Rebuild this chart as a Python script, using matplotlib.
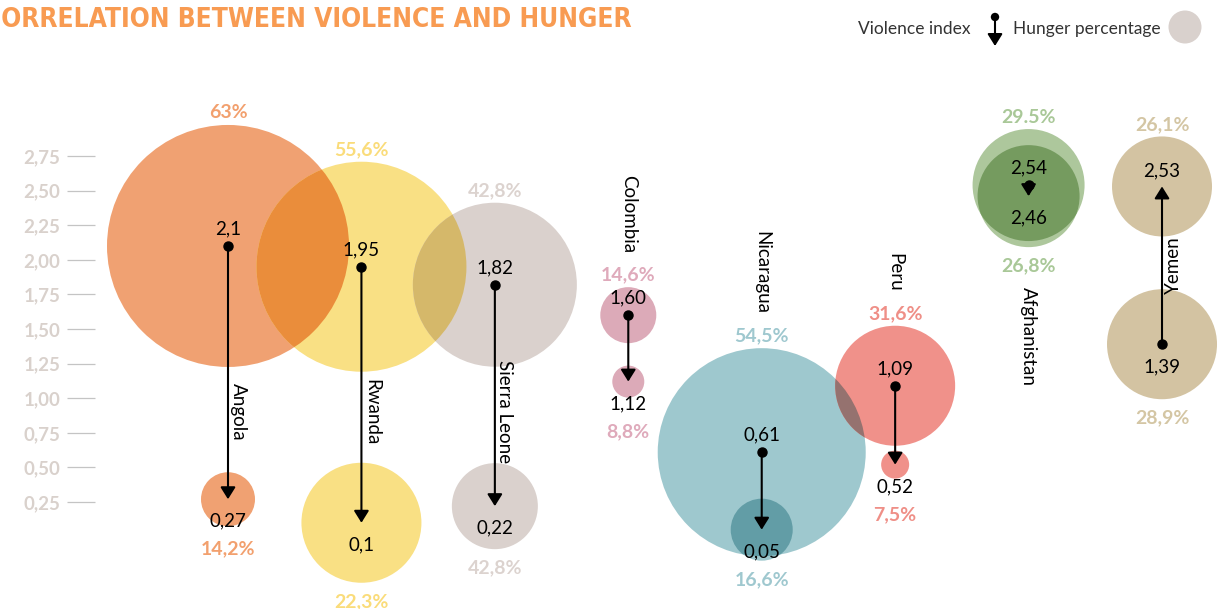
import matplotlib
matplotlib.use('Agg')
import matplotlib.pyplot as plt
from matplotlib.patches import Circle
from matplotlib import transforms, font_manager
import matplotlib.colors as mcolors
import numpy as np

plt.rcParams['font.family'] = ['Lato', 'DejaVu Sans']

# data
countries = ['Angola', 'Rwanda', 'Sierra Leone', 'Colombia', 'Nicaragua', 'Peru', 'Afghanistan', 'Yemen']
violence_start = [2.1, 1.95, 1.82, 1.60, 0.61, 1.09, 2.54, 1.39]
violence_end = [0.27, 0.1, 0.22, 1.12, 0.05, 0.52, 2.46, 2.53]
violence_start_lbl = ['2,1', '1,95', '1,82', '1,60', '0,61', '1,09', '2,54', '1,39']
violence_end_lbl = ['0,27', '0,1', '0,22', '1,12', '0,05', '0,52', '2,46', '2,53']
hunger_start_lbl = ['63%', '55,6%', '42,8%', '14,6%', '54,5%', '31,6%', '29.5%', '28,9%']
hunger_end_lbl = ['14,2%', '22,3%', '42,8%', '8,8%', '16,6%', '7,5%', '26,8%', '26,1%']
yticks = [0.25, 0.5, 0.75, 1.0, 1.25, 1.5, 1.75, 2.0, 2.25, 2.5, 2.75]
ytick_lbl = ['0,25', '0,50', '0,75', '1,00', '1,25', '1,50', '1,75', '2,00', '2,25', '2,50', '2,75']
title = 'CORRELATION BETWEEN VIOLENCE AND HUNGER'

# style: bubble radii in pixels, colours, where the country name goes
r_start = [121, 105, 82, 28, 104, 60, 56, 55]
r_end = [27, 60, 43, 16, 31, 14, 51, 50]
colors = ['#f0a172', '#f9e084', '#dad1cd', '#dcaab8', '#9ec8ce', '#f0918a', '#adc79c', '#d3c3a2']
label_colors = ['#f2a06e', '#fadc7a', '#dcd3cf', '#dfaabb', '#9fc8cf', '#ef8f87', '#a9c898', '#d4c6a4']
name_mode = ['fixed', 'fixed', 'fixed', 'above', 'above', 'above', 'below', 'arrow']

W, H = 1224, 609
PT = 0.72  # points per pixel at dpi 100

fig = plt.figure(figsize=(W / 100, H / 100), dpi=100)
ax_left = 95
ax = fig.add_axes([ax_left / W, 0, 1 - ax_left / W, 1])
px_x, px_y = 133.43, 138.4
x0 = -(228 - ax_left) / px_x
ax.set_xlim(x0, x0 + (W - ax_left) / px_x)
ax.set_ylim(2.75 - (H - 156) / px_y, 2.75 + 156 / px_y)

ax.set_xticks([])
ax.set_yticks(yticks)
ax.set_yticklabels(ytick_lbl)
ax.tick_params(axis='y', length=20, width=0.9, color='#c4c4c4', pad=5,
               labelsize=13.5, labelcolor='#d9d1cc')
for t in ax.get_yticklabels():
    t.set_fontweight('bold')
for s in ax.spines.values():
    s.set_visible(False)


def bubble(x, y, r, color, z=1):
    tr = fig.dpi_scale_trans + transforms.ScaledTranslation(x, y, ax.transData)
    c = Circle((0, 0), r / 100, transform=tr, facecolor=color, edgecolor='none', zorder=z)
    ax.add_patch(c)
    return c


def multiply(c1, c2):
    a = np.array(mcolors.to_rgb(c1))
    b = np.array(mcolors.to_rgb(c2))
    return tuple(a * b)


bubbles = []
for i in range(len(countries)):
    for v, r in ((violence_start[i], r_start[i]), (violence_end[i], r_end[i])):
        p = bubble(i, v, r, colors[i])
        p.set_clip_on(False)
        bubbles.append((i, v, r, colors[i], p))

# darker overlap where two bubbles cross (multiply blend)
for a in range(len(bubbles)):
    for b in range(a + 1, len(bubbles)):
        ia, va, ra, ca, pa = bubbles[a]
        ib, vb, rb, cb, pb = bubbles[b]
        da = ax.transData.transform((ia, va))
        db = ax.transData.transform((ib, vb))
        if np.hypot(*(da - db)) < ra + rb:
            ov = bubble(ib, vb, rb, multiply(ca, cb), z=2)
            ov.set_clip_path(pa)


def label(x, y, txt, dy_px, **kw):
    ax.annotate(txt, xy=(x, y), xytext=(0, dy_px * PT), textcoords='offset points',
                ha='center', va='center', zorder=8, annotation_clip=False, **kw)


for i, name in enumerate(countries):
    s, e = violence_start[i], violence_end[i]
    down = e < s
    ax.annotate('', xy=(i, e), xytext=(i, s),
                arrowprops=dict(arrowstyle='-|>,head_length=0.4,head_width=0.25',
                                mutation_scale=18, color='black', lw=1.5,
                                shrinkA=0, shrinkB=0), zorder=6)
    ax.plot(i, s, 'o', color='black', ms=6.5, zorder=7, clip_on=False)

    if down:
        label(i, s, violence_start_lbl[i], 17, fontsize=13.5, color='black')
        label(i, e, violence_end_lbl[i], -22, fontsize=13.5, color='black')
        top_v, top_r, top_txt = s, r_start[i], hunger_start_lbl[i]
        bot_v, bot_r, bot_txt = e, r_end[i], hunger_end_lbl[i]
    else:
        label(i, s, violence_start_lbl[i], -23, fontsize=13.5, color='black')
        label(i, e, violence_end_lbl[i], 16, fontsize=13.5, color='black')
        top_v, top_r, top_txt = e, r_end[i], hunger_end_lbl[i]
        bot_v, bot_r, bot_txt = s, r_start[i], hunger_start_lbl[i]

    top_off = top_r + 12
    bot_off = max(bot_r, 31) + 19
    label(i, top_v, top_txt, top_off, fontsize=14, fontweight='bold', color=label_colors[i])
    label(i, bot_v, bot_txt, -bot_off, fontsize=14, fontweight='bold', color=label_colors[i])

    mode = name_mode[i]
    if mode == 'fixed':
        ax.annotate(name, xy=(i, 0.90), xytext=(10 * PT, 0), textcoords='offset points',
                    rotation=-90, ha='center', va='center', fontsize=13.5, zorder=8)
    elif mode == 'above':
        ax.annotate(name, xy=(i, top_v), xytext=(0, (top_off + 22) * PT), textcoords='offset points',
                    rotation=-90, ha='center', va='bottom', fontsize=13.5, zorder=8)
    elif mode == 'below':
        ax.annotate(name, xy=(i, bot_v), xytext=(0, -(bot_off + 21) * PT), textcoords='offset points',
                    rotation=-90, ha='center', va='top', fontsize=13.5, zorder=8)
    else:
        ax.annotate(name, xy=(i, (s + e) / 2), xytext=(11 * PT, 0), textcoords='offset points',
                    rotation=90, ha='center', va='center', fontsize=13.5, zorder=8)

# title: condensed bold if one is installed, cut at the left edge like the original
title_kw = dict(fontweight='bold', family=['Lato', 'DejaVu Sans'])
bold_names = {f.name for f in font_manager.fontManager.ttflist}
if 'Liberation Sans Narrow' in bold_names:
    title_kw = dict(fontweight='bold', family=['Liberation Sans Narrow', 'DejaVu Sans'])
elif any(f.name == 'DejaVu Sans' and f.stretch == 'condensed' for f in font_manager.fontManager.ttflist):
    title_kw = dict(fontweight='bold', family=['DejaVu Sans'], fontstretch='condensed')

# size the visible part ("ORRELATION ...") to span 0..632 px like the reference
probe = fig.text(0, 0, title[1:], fontsize=24, **title_kw)
renderer = fig.canvas.get_renderer()
w = probe.get_window_extent(renderer).width
probe.remove()
fs = 24 * 632 / w
fs = min(fs, 26)
fig.text(632 / W, 1 - 27 / H, title, ha='right', va='baseline',
         fontsize=fs, color='#f89b52', **title_kw)

# legend
fig.text(914 / W, 1 - 29 / H, 'Violence index', ha='center', va='center', fontsize=12.5, color='#333333')
fig.text(1087 / W, 1 - 29 / H, 'Hunger percentage', ha='center', va='center', fontsize=12.5, color='#333333')
ax.annotate('', xy=(995, H - 46), xytext=(995, H - 17), xycoords='figure pixels',
            arrowprops=dict(arrowstyle='-|>,head_length=0.4,head_width=0.25', mutation_scale=18,
                            color='black', lw=1.5, shrinkA=0, shrinkB=0))
fig.add_artist(Circle((995 / 100, (H - 17) / 100), 0.042, transform=fig.dpi_scale_trans,
                      facecolor='black', edgecolor='none'))
fig.add_artist(Circle((1185 / 100, (H - 27) / 100), 0.165, transform=fig.dpi_scale_trans,
                      facecolor='#d9d1cd', edgecolor='none'))

fig.savefig('out.png', dpi=100)
